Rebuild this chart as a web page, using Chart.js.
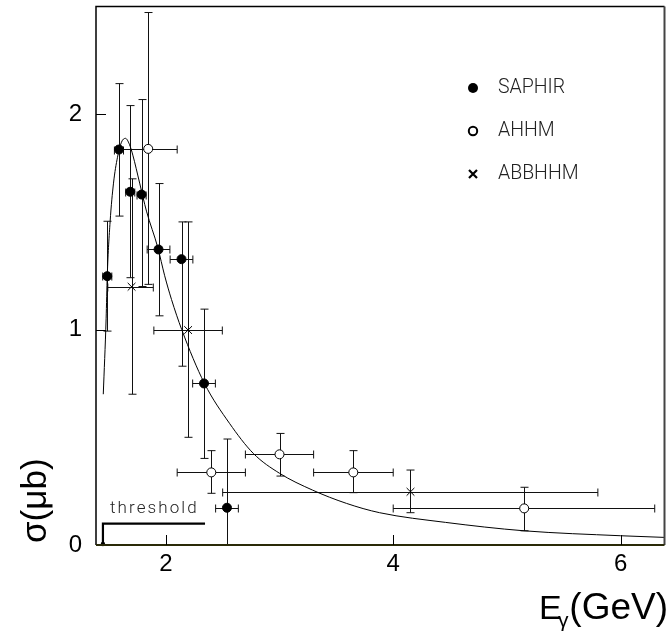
<!DOCTYPE html>
<html>
<head>
<meta charset="utf-8">
<script src="https://cdn.jsdelivr.net/npm/chart.js@4.4.1/dist/chart.umd.min.js"></script>
<style>
html,body{margin:0;padding:0;background:#fff;}
canvas{display:block;}
</style>
</head>
<body>
<canvas id="c" width="671" height="634"></canvas>
<script>
// ---- Data ----
// SAPHIR (filled circles)
const saphirE        = [1.485, 1.588, 1.687, 1.787, 1.936, 2.138, 2.336, 2.538];
const saphirSigma    = [1.248, 1.836, 1.640, 1.627, 1.372, 1.327, 0.750, 0.173];
const saphirSigLow   = [0.993, 1.527, 1.241, 1.200, 1.064, 0.830, 0.402, 0.000];
const saphirSigHigh  = [1.503, 2.142, 2.040, 2.068, 1.678, 1.500, 1.095, 0.492];
const saphirELow     = [1.445, 1.548, 1.647, 1.747, 1.836, 2.038, 2.236, 2.438];
const saphirEHigh    = [1.525, 1.628, 1.727, 1.827, 2.036, 2.238, 2.436, 2.638];
// AHHM (open circles)
const ahhmE          = [1.845, 2.400, 3.000, 3.649, 5.152];
const ahhmSigma      = [1.839, 0.337, 0.421, 0.337, 0.170];
const ahhmSigLow     = [1.210, 0.240, 0.320, 0.243, 0.066];
const ahhmSigHigh    = [2.472, 0.438, 0.518, 0.438, 0.268];
const ahhmELow       = [1.570, 2.100, 2.700, 3.300, 4.000];
const ahhmEHigh      = [2.100, 2.700, 3.300, 4.000, 6.300];
// ABBHHM (crosses)
const abbE           = [1.699, 2.196, 4.152];
const abbSigma       = [1.199, 0.998, 0.247];
const abbSigLow      = [0.700, 0.500, 0.150];
const abbSigHigh     = [1.700, 1.500, 0.348];
const abbELow        = [1.490, 1.895, 2.500];
const abbEHigh       = [1.890, 2.497, 5.800];
// Model curve
const curveE     = [1.45, 1.475, 1.485, 1.51, 1.54, 1.575, 1.61, 1.645, 1.68, 1.71, 1.77, 1.83, 1.93, 1.99, 2.05, 2.14, 2.34, 2.56, 2.77, 3.00, 3.29, 3.59, 3.88, 4.46, 5.15, 6.00, 6.40];
const curveSigma = [0.70, 1.05, 1.25, 1.50, 1.68, 1.80, 1.87, 1.888, 1.86, 1.81, 1.68, 1.55, 1.38, 1.25, 1.14, 1.00, 0.75, 0.565, 0.425, 0.333, 0.255, 0.193, 0.150, 0.105, 0.066, 0.043, 0.035];
// Threshold marker
const thresholdE = 1.447;
const thresholdBarEnd = 2.345;
const thresholdBarSigma = 0.099;
// Axes
const xTicks = [2, 4, 6];
const yTicks = [0, 1, 2];
const xRange = [1.386, 6.386];
const yRange = [0, 2.5];
const legendNames = ['SAPHIR', 'AHHM', 'ABBHHM'];

const pts = (xs, ys) => xs.map((x, i) => ({x: x, y: ys[i]}));

const errorSets = [
  {E: saphirE, S: saphirSigma, lo: saphirSigLow, hi: saphirSigHigh, el: saphirELow, eh: saphirEHigh},
  {E: ahhmE, S: ahhmSigma, lo: ahhmSigLow, hi: ahhmSigHigh, el: ahhmELow, eh: ahhmEHigh},
  {E: abbE, S: abbSigma, lo: abbSigLow, hi: abbSigHigh, el: abbELow, eh: abbEHigh}
];

const LIGHT = '300 19.5px Roboto, "Liberation Sans", sans-serif';

const deco = {
  id: 'deco',
  beforeDatasetsDraw(chart) {
    const {ctx, scales: {x, y}} = chart;
    ctx.save();
    ctx.strokeStyle = '#111';
    ctx.lineWidth = 1;
    const cap = 4;
    errorSets.forEach(s => {
      s.E.forEach((e, i) => {
        const px = Math.round(x.getPixelForValue(e)) + 0.5;
        const py = Math.round(y.getPixelForValue(s.S[i])) + 0.5;
        const yl = y.getPixelForValue(s.lo[i]);
        const yh = y.getPixelForValue(s.hi[i]);
        const xl = x.getPixelForValue(s.el[i]);
        const xh = x.getPixelForValue(s.eh[i]);
        ctx.beginPath();
        ctx.moveTo(px, yl); ctx.lineTo(px, yh);
        ctx.moveTo(px - cap, yh); ctx.lineTo(px + cap, yh);
        if (s.lo[i] > 0.001) { ctx.moveTo(px - cap, yl); ctx.lineTo(px + cap, yl); }
        ctx.moveTo(xl, py); ctx.lineTo(xh, py);
        ctx.moveTo(xl, py - cap); ctx.lineTo(xl, py + cap);
        ctx.moveTo(xh, py - cap); ctx.lineTo(xh, py + cap);
        ctx.stroke();
      });
    });
    // threshold bracket
    const tx = x.getPixelForValue(thresholdE);
    const ty = y.getPixelForValue(thresholdBarSigma);
    const tx2 = x.getPixelForValue(thresholdBarEnd);
    const y0 = y.getPixelForValue(0);
    ctx.lineWidth = 2.2;
    ctx.strokeStyle = '#000';
    ctx.beginPath();
    ctx.moveTo(tx, y0); ctx.lineTo(tx, ty); ctx.lineTo(tx2, ty);
    ctx.stroke();
    ctx.fillStyle = '#000';
    ctx.beginPath(); ctx.arc(tx, y0 - 1, 2.2, 0, Math.PI * 2); ctx.fill();
    ctx.font = '300 17px Roboto, "Liberation Sans", sans-serif';
    if ('letterSpacing' in ctx) ctx.letterSpacing = '2.1px';
    ctx.fillStyle = '#222';
    ctx.textAlign = 'left';
    ctx.textBaseline = 'alphabetic';
    ctx.fillText('threshold', x.getPixelForValue(1.509), y.getPixelForValue(0.149));
    ctx.restore();
  },
  afterDraw(chart) {
    const {ctx, chartArea: a, scales: {x, y}} = chart;
    ctx.save();
    // frame
    ctx.strokeStyle = '#000';
    ctx.lineWidth = 1.5;
    ctx.beginPath();
    ctx.moveTo(a.left, a.bottom); ctx.lineTo(a.left, a.top); ctx.lineTo(a.right, a.top);
    ctx.stroke();
    ctx.strokeStyle = '#444';
    ctx.lineWidth = 2;
    ctx.beginPath(); ctx.moveTo(a.right, a.top); ctx.lineTo(a.right, a.bottom); ctx.stroke();
    ctx.strokeStyle = '#2a2a08';
    ctx.beginPath(); ctx.moveTo(a.left, a.bottom); ctx.lineTo(a.right, a.bottom); ctx.stroke();
    // inner tick marks
    ctx.strokeStyle = '#000';
    ctx.lineWidth = 1;
    ctx.beginPath();
    xTicks.forEach(v => { const p = Math.round(x.getPixelForValue(v)) + 0.5; ctx.moveTo(p, a.bottom); ctx.lineTo(p, a.bottom - 10); });
    yTicks.forEach(v => { if (v === 0) return; const p = Math.round(y.getPixelForValue(v)) + 0.5; ctx.moveTo(a.left, p); ctx.lineTo(a.left + 10, p); });
    ctx.stroke();
    // legend
    const lx = 473, ly = [88, 131, 174];
    ctx.fillStyle = '#000';
    ctx.beginPath(); ctx.arc(lx, ly[0], 5, 0, Math.PI * 2); ctx.fill();
    ctx.lineWidth = 2;
    ctx.beginPath(); ctx.arc(lx, ly[1], 4.2, 0, Math.PI * 2); ctx.stroke();
    ctx.lineWidth = 2.2;
    ctx.beginPath();
    ctx.moveTo(lx - 4, ly[2] - 4); ctx.lineTo(lx + 4, ly[2] + 4);
    ctx.moveTo(lx - 4, ly[2] + 4); ctx.lineTo(lx + 4, ly[2] - 4);
    ctx.stroke();
    ctx.font = LIGHT;
    ctx.fillStyle = '#222';
    ctx.textAlign = 'left';
    ctx.textBaseline = 'middle';
    legendNames.forEach((n, i) => ctx.fillText(n, 498, ly[i]));
    // axis titles
    ctx.fillStyle = '#000';
    ctx.textBaseline = 'alphabetic';
    ctx.font = '35px "Liberation Sans", Arial, sans-serif';
    ctx.save();
    ctx.translate(46, 543);
    ctx.rotate(-Math.PI / 2);
    ctx.textAlign = 'left';
    ctx.fillText('σ(μb)', 0, 0);
    ctx.restore();
    ctx.font = '34px "Liberation Sans", Arial, sans-serif';
    ctx.textAlign = 'left';
    ctx.fillText('E', 539, 619);
    ctx.font = '21px "Liberation Sans", Arial, sans-serif';
    ctx.fillText('γ', 558, 627);
    ctx.font = '37px "Liberation Sans", Arial, sans-serif';
    ctx.textAlign = 'right';
    ctx.fillText('(GeV)', 668, 619);
    ctx.restore();
  }
};

new Chart(document.getElementById('c'), {
  type: 'scatter',
  data: {
    datasets: [
      {label: 'SAPHIR', data: pts(saphirE, saphirSigma), pointStyle: 'circle', pointRadius: 4.5,
       backgroundColor: '#000', borderColor: '#000', borderWidth: 1, order: 1},
      {label: 'AHHM', data: pts(ahhmE, ahhmSigma), pointStyle: 'circle', pointRadius: 4.5,
       backgroundColor: '#fff', borderColor: '#000', borderWidth: 1, order: 1},
      {label: 'ABBHHM', data: pts(abbE, abbSigma), pointStyle: 'crossRot', pointRadius: 5.5,
       backgroundColor: '#000', borderColor: '#000', borderWidth: 1, order: 1},
      {label: 'model', type: 'line', data: pts(curveE, curveSigma), showLine: true, pointRadius: 0,
       borderColor: '#000', borderWidth: 1, fill: false, cubicInterpolationMode: 'monotone', order: 2}
    ]
  },
  options: {
    responsive: false,
    animation: false,
    events: [],
    layout: {padding: {top: 6, right: 5, left: 0, bottom: 0}},
    plugins: {legend: {display: false}, tooltip: {enabled: false}},
    scales: {
      x: {
        type: 'linear', min: xRange[0], max: xRange[1],
        afterBuildTicks: s => { s.ticks = xTicks.map(v => ({value: v})); },
        afterFit: s => { s.height = 89; s.paddingLeft = 0; s.paddingRight = 0; },
        grid: {drawOnChartArea: false, drawTicks: false},
        border: {display: false},
        ticks: {color: '#000', padding: 5, font: {family: '"Liberation Sans", Arial, sans-serif', size: 24}}
      },
      y: {
        type: 'linear', min: yRange[0], max: yRange[1],
        afterBuildTicks: s => { s.ticks = yTicks.map(v => ({value: v})); },
        afterFit: s => { s.width = 96; s.paddingTop = 0; s.paddingBottom = 0; },
        grid: {drawOnChartArea: false, drawTicks: false},
        border: {display: false},
        ticks: {color: '#000', padding: 14, font: {family: '"Liberation Sans", Arial, sans-serif', size: 24}}
      }
    }
  },
  plugins: [deco]
});
</script>
</body>
</html>
